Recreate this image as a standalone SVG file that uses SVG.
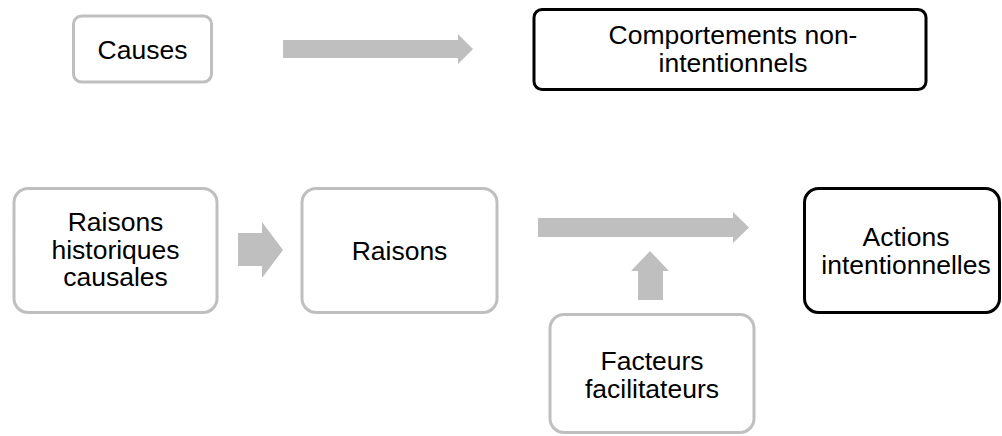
<svg xmlns="http://www.w3.org/2000/svg" width="1002" height="436" viewBox="0 0 1002 436">
<style>
.g{fill:#fff;stroke:#bfbfbf;stroke-width:3}
.k{fill:#fff;stroke:#000;stroke-width:3}
.t{font-family:"Liberation Sans",Arial,sans-serif;font-size:26.5px;fill:#000;text-anchor:middle}
.a{fill:#bfbfbf}
</style>
<rect width="1002" height="436" fill="#fff"/>
<g id="connectors">
<polygon class="a" points="283,40 458,40 458,34 473,49 458,64 458,58 283,58"/>
<polygon class="a" points="238,233 262,233 262,222 283,250 262,278 262,266 238,266"/>
<polygon class="a" points="538,218 733,218 733,212 749,227.5 733,243 733,237 538,237"/>
<polygon class="a" points="638,300 638,271 631,271 650,251 669,271 663,271 663,300"/>
</g>
<g id="causes">
<rect class="g" x="73.5" y="16" width="138" height="66" rx="8"/>
<text class="t" x="142.5" y="59">Causes</text>
</g>
<g id="comportements">
<rect class="k" x="534" y="9.5" width="392" height="80" rx="8"/>
<text class="t" x="733" y="44">Comportements non-</text>
<text class="t" x="733" y="72">intentionnels</text>
</g>
<g id="raisons-historiques">
<rect class="g" x="14" y="188.5" width="203" height="124" rx="14"/>
<text class="t" x="115.5" y="231">Raisons</text>
<text class="t" x="115.5" y="258.5">historiques</text>
<text class="t" x="115.5" y="286">causales</text>
</g>
<g id="raisons">
<rect class="g" x="302" y="188.5" width="195" height="124" rx="14"/>
<text class="t" x="399.5" y="259.5">Raisons</text>
</g>
<g id="actions">
<rect class="k" x="804.5" y="188.5" width="195" height="124" rx="14"/>
<text class="t" x="906" y="246">Actions</text>
<text class="t" x="906" y="274">intentionnelles</text>
</g>
<g id="facteurs">
<rect class="g" x="550" y="314.5" width="204" height="118" rx="14"/>
<text class="t" x="652" y="370">Facteurs</text>
<text class="t" x="652" y="398">facilitateurs</text>
</g>
</svg>
